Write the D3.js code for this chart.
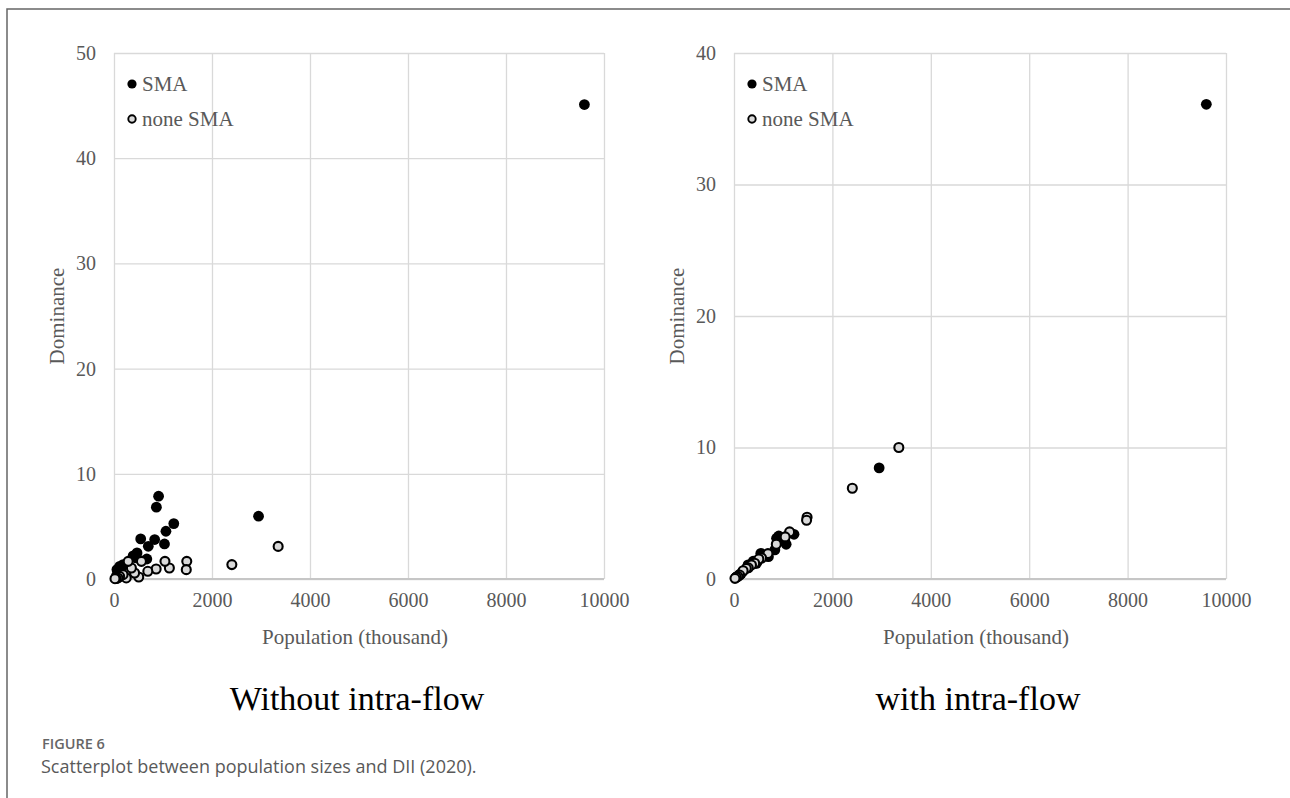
<!DOCTYPE html>
<html>
<head>
<meta charset="utf-8">
<script src="https://cdn.jsdelivr.net/npm/d3@7"></script>
<style>
  body { margin: 0; background: #fff; }
  svg { display: block; }
</style>
</head>
<body>
<svg id="chart" width="1290" height="798"></svg>
<script>
// population (thousand) of each city, same cities in both panels
const smaPop = [9600, 2950, 1220, 1060, 1030, 910, 865, 830, 700, 670, 545, 470, 455, 390, 285, 185, 150, 115, 60, 50];
const nonePop = [3350, 2405, 1485, 1475, 1130, 1040, 860, 690, 560, 505, 420, 355, 290, 250, 185, 115, 80, 45, 20];

// dominance without intra-flow
const smaDomWithout = [45.1, 5.97, 5.27, 4.54, 3.33, 7.87, 6.83, 3.75, 3.11, 1.9, 3.81, 2.48, 2.0, 2.2, 1.5, 1.37, 1.0, 1.2, 0.9, 0.3];
const noneDomWithout = [3.1, 1.37, 1.68, 0.89, 1.05, 1.68, 0.95, 0.73, 1.68, 0.19, 0.57, 1.05, 1.68, 0.1, 0.41, 0.25, 0.1, 0.05, 0.03];

// dominance with intra-flow
const smaDomWith = [36.1, 8.45, 3.4, 2.64, 2.9, 3.27, 3.1, 2.21, 1.7, 1.75, 1.95, 1.3, 1.19, 1.35, 1.07, 0.6, 0.43, 0.35, 0.18, 0.15];
const noneDomWith = [10.0, 6.9, 4.7, 4.47, 3.58, 3.2, 2.64, 1.93, 1.6, 1.52, 1.2, 1.07, 0.85, 0.81, 0.63, 0.3, 0.2, 0.13, 0.05];

const xTicks = [0, 2000, 4000, 6000, 8000, 10000];
const yTicksWithout = [0, 10, 20, 30, 40, 50];
const yTicksWith = [0, 10, 20, 30, 40];
const seriesNames = ["SMA", "none SMA"];
const panelTitles = ["Without intra-flow", "with intra-flow"];

const svg = d3.select("#chart");
const SERIF = "'Liberation Serif', 'Times New Roman', serif";
const GRID = "#d9d9d9";
const LABEL = "#595959";

// frame of the figure (top and left edge)
svg.append("path")
    .attr("d", "M7,798 V9 H1290")
    .attr("fill", "none")
    .attr("stroke", "#666")
    .attr("stroke-width", 1.5);

function drawPanel(opts) {
    const xScale = d3.scaleLinear().domain([0, 10000]).range([opts.left, opts.right]);
    const yScale = d3.scaleLinear().domain([0, opts.yMax]).range([opts.bottom, opts.top]);
    const g = svg.append("g");

    // grid
    g.append("g")
        .attr("transform", `translate(0, ${opts.bottom})`)
        .call(d3.axisBottom(xScale).tickValues(xTicks).tickSize(-(opts.bottom - opts.top)).tickFormat(""))
        .call(a => a.select(".domain").remove())
        .call(a => a.selectAll("line").attr("stroke", GRID).attr("stroke-width", 1.3));
    g.append("g")
        .attr("transform", `translate(${opts.left}, 0)`)
        .call(d3.axisLeft(yScale).tickValues(opts.yTicks).tickSize(-(opts.right - opts.left)).tickFormat(""))
        .call(a => a.select(".domain").remove())
        .call(a => a.selectAll("line").attr("stroke", GRID).attr("stroke-width", 1.3));
    g.append("line")
        .attr("x1", opts.left).attr("x2", opts.right)
        .attr("y1", opts.bottom).attr("y2", opts.bottom)
        .attr("stroke", "#c6c6c6").attr("stroke-width", 2);

    // tick labels
    g.append("g")
        .attr("transform", `translate(0, ${opts.bottom})`)
        .call(d3.axisBottom(xScale).tickValues(xTicks).tickSize(0).tickPadding(14).tickFormat(d3.format("d")))
        .call(a => a.select(".domain").remove())
        .call(a => a.selectAll("text").attr("fill", LABEL).style("font-family", SERIF).style("font-size", "20px"));
    g.append("g")
        .attr("transform", `translate(${opts.left}, 0)`)
        .call(d3.axisLeft(yScale).tickValues(opts.yTicks).tickSize(0).tickPadding(18).tickFormat(d3.format("d")))
        .call(a => a.select(".domain").remove())
        .call(a => a.selectAll("text").attr("fill", LABEL).style("font-family", SERIF).style("font-size", "20px"));

    // axis titles
    g.append("text")
        .attr("x", (opts.left + opts.right) / 2 - 4)
        .attr("y", 644)
        .attr("text-anchor", "middle")
        .attr("fill", LABEL)
        .style("font-family", SERIF)
        .style("font-size", "21px")
        .text("Population (thousand)");
    g.append("text")
        .attr("transform", `translate(${opts.left - 50}, ${(opts.top + opts.bottom) / 2}) rotate(-90)`)
        .attr("text-anchor", "middle")
        .attr("fill", LABEL)
        .style("font-family", SERIF)
        .style("font-size", "21px")
        .text("Dominance");

    // points: SMA first, none SMA drawn on top
    g.append("g").selectAll("circle")
        .data(d3.zip(smaPop, opts.smaDom))
        .join("circle")
        .attr("cx", d => xScale(d[0]))
        .attr("cy", d => yScale(d[1]))
        .attr("r", 5.4)
        .attr("fill", "#000");
    g.append("g").selectAll("circle")
        .data(d3.zip(nonePop, opts.noneDom))
        .join("circle")
        .attr("cx", d => xScale(d[0]))
        .attr("cy", d => yScale(d[1]))
        .attr("r", 4.5)
        .attr("fill", "#d9d9d9")
        .attr("stroke", "#000")
        .attr("stroke-width", 2.1);

    // legend
    const legend = g.append("g").attr("transform", `translate(${opts.left + 18}, 0)`);
    legend.append("circle").attr("cx", 0).attr("cy", 84).attr("r", 4.6).attr("fill", "#000");
    legend.append("circle").attr("cx", 0).attr("cy", 119).attr("r", 3.7)
        .attr("fill", "#d9d9d9").attr("stroke", "#000").attr("stroke-width", 1.9);
    legend.selectAll("text")
        .data(seriesNames)
        .join("text")
        .attr("x", 10)
        .attr("y", (d, i) => 91 + i * 35)
        .attr("fill", LABEL)
        .style("font-family", SERIF)
        .style("font-size", "21px")
        .text(d => d);

    // panel title
    g.append("text")
        .attr("x", (opts.left + opts.right) / 2 - 2)
        .attr("y", 710)
        .attr("text-anchor", "middle")
        .attr("fill", "#000")
        .style("font-family", SERIF)
        .style("font-size", "34px")
        .text(opts.title);
}

drawPanel({
    left: 114, right: 604, top: 53, bottom: 579,
    yMax: 50, yTicks: yTicksWithout,
    smaDom: smaDomWithout, noneDom: noneDomWithout,
    title: panelTitles[0]
});
drawPanel({
    left: 734, right: 1226, top: 53, bottom: 579,
    yMax: 40, yTicks: yTicksWith,
    smaDom: smaDomWith, noneDom: noneDomWith,
    title: panelTitles[1]
});

// figure caption
svg.append("text")
    .attr("x", 42).attr("y", 749)
    .attr("fill", "#666")
    .style("font-family", "'Open Sans', sans-serif")
    .style("font-size", "14.5px")
    .style("font-weight", 600)
    .text("FIGURE 6");
svg.append("text")
    .attr("x", 41).attr("y", 773)
    .attr("fill", "#595959")
    .style("font-family", "'Open Sans', sans-serif")
    .style("font-size", "18px")
    .text("Scatterplot between population sizes and DII (2020).");
</script>
</body>
</html>
